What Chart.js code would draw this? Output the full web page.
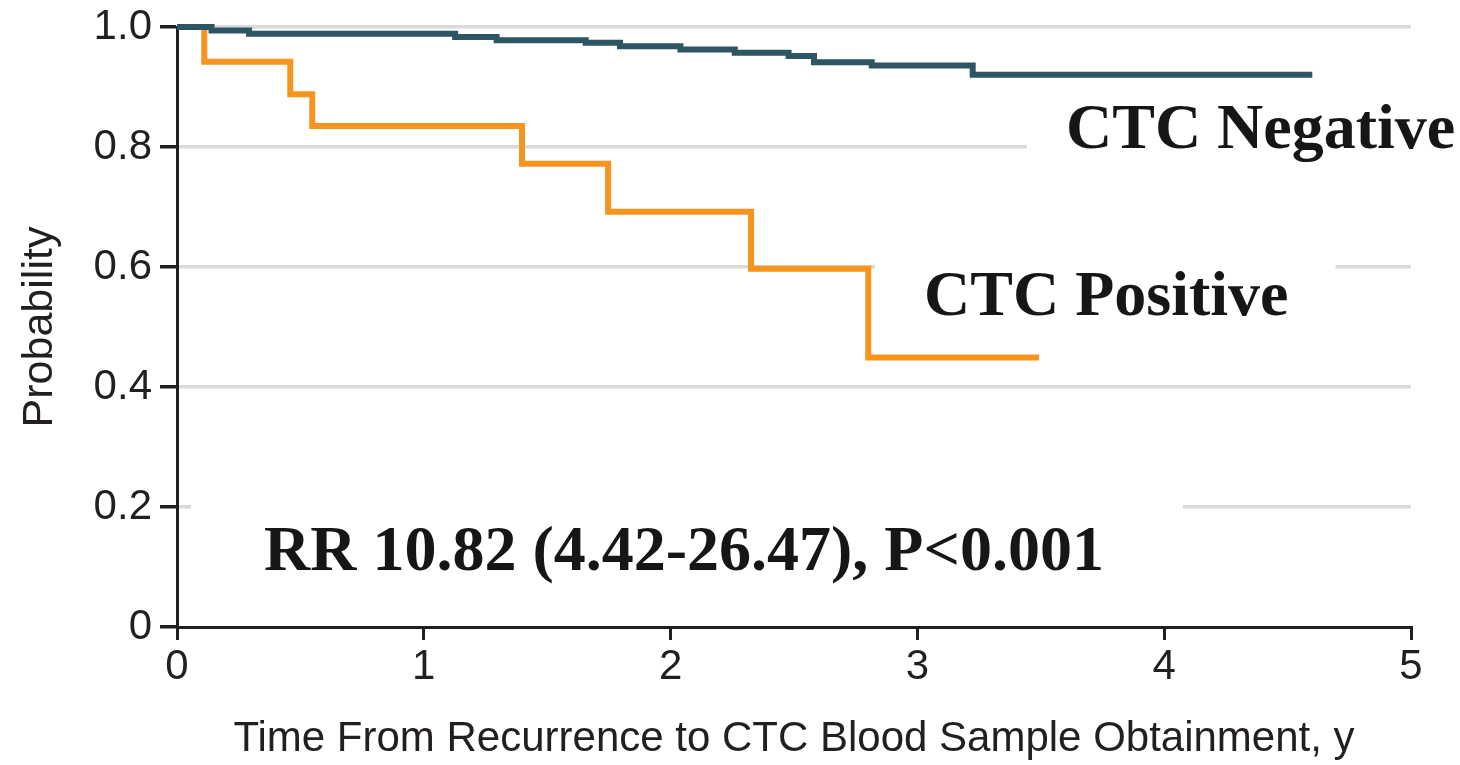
<!DOCTYPE html>
<html>
<head>
<meta charset="utf-8">
<script src="https://cdn.jsdelivr.net/npm/chart.js@4/dist/chart.umd.min.js"></script>
<style>
  html, body { margin: 0; padding: 0; background: #ffffff; }
  #wrap { width: 1460px; height: 765px; }
</style>
</head>
<body>
<div id="wrap"><canvas id="c" width="1460" height="765"></canvas></div>
<script>
// ---- Data ----
const negTimes  = [0, 0.14, 0.292, 1.127, 1.295, 1.656, 1.795, 2.04, 2.26, 2.478, 2.581, 2.815, 3.224, 4.60];
const negSurv   = [1.0, 0.994, 0.9886, 0.9833, 0.978, 0.9736, 0.9678, 0.9625, 0.9572, 0.9517, 0.9411, 0.9358, 0.9206, 0.9206];
const posTimes  = [0, 0.1106, 0.459, 0.548, 1.398, 1.747, 2.326, 2.801, 3.493];
const posSurv   = [1.0, 0.942, 0.888, 0.835, 0.772, 0.692, 0.597, 0.449, 0.449];
const xTickLabels = ['0', '1', '2', '3', '4', '5'];
const yTickLabels = ['0', '0.2', '0.4', '0.6', '0.8', '1.0'];
const seriesNames = ['CTC Negative', 'CTC Positive'];
const statText = 'RR 10.82 (4.42-26.47), P<0.001';
const xTitle = 'Time From Recurrence to CTC Blood Sample Obtainment, y';
const yTitle = 'Probability';

const INK = '#231f20';
const GRID = '#dadadb';
const SANS = "'Liberation Sans', Arial, sans-serif";
const SERIF = "'Liberation Serif', 'Times New Roman', serif";

function toPoints(xs, ys) { return xs.map((x, i) => ({ x: x, y: ys[i] })); }

// annotation labels anchored in data space (baseline-left of text)
const annotations = [
  { text: seriesNames[0], x: 3.602, y: 0.7983, padL: 39, padR: 40, up: 48, down: 27 },
  { text: seriesNames[1], x: 3.027, y: 0.52,   padL: 49, padR: 47, up: 75, down: 15 },
  { text: statText,       x: 0.3525, y: 0.095, padL: 73, padR: 79, up: 80, down: 20 }
];
const annFont = 'bold 64px ' + SERIF;

const annotationPlugin = {
  id: 'annotationPlugin',
  beforeDatasetsDraw(chart) {
    const ctx = chart.ctx;
    const xs = chart.scales.x, ys = chart.scales.y;
    ctx.save();
    ctx.font = annFont;
    ctx.fillStyle = '#ffffff';
    annotations.forEach(a => {
      const px = xs.getPixelForValue(a.x);
      const py = ys.getPixelForValue(a.y);
      const w = ctx.measureText(a.text).width;
      ctx.fillRect(px - a.padL, py - a.up, w + a.padL + a.padR, a.up + a.down);
    });
    ctx.restore();
  },
  afterDraw(chart) {
    const ctx = chart.ctx;
    const xs = chart.scales.x, ys = chart.scales.y;
    ctx.save();
    ctx.font = annFont;
    ctx.fillStyle = '#161616';
    ctx.textAlign = 'left';
    ctx.textBaseline = 'alphabetic';
    annotations.forEach(a => {
      ctx.fillText(a.text, xs.getPixelForValue(a.x), ys.getPixelForValue(a.y));
    });
    ctx.restore();
  }
};

new Chart(document.getElementById('c'), {
  type: 'line',
  data: {
    datasets: [
      {
        label: seriesNames[0],
        data: toPoints(negTimes, negSurv),
        borderColor: '#2d5564',
        borderWidth: 6,
        stepped: 'before',
        pointRadius: 0,
        fill: false,
        clip: false
      },
      {
        label: seriesNames[1],
        data: toPoints(posTimes, posSurv),
        borderColor: '#f7941d',
        borderWidth: 6,
        stepped: 'before',
        pointRadius: 0,
        fill: false,
        clip: false
      }
    ]
  },
  options: {
    responsive: false,
    devicePixelRatio: 1,
    animation: false,
    layout: { padding: { top: 27, right: 49, left: 0, bottom: 0 } },
    plugins: { legend: { display: false }, tooltip: { enabled: false } },
    scales: {
      x: {
        type: 'linear',
        min: 0, max: 5,
        afterFit(scale) { scale.height = 138; scale.paddingLeft = 0; scale.paddingRight = 0; },
        ticks: {
          stepSize: 1,
          color: INK,
          font: { family: SANS, size: 42 },
          padding: 2,
          maxRotation: 0,
          callback: (v) => xTickLabels[Math.round(v)]
        },
        grid: {
          drawOnChartArea: false,
          drawTicks: true,
          tickLength: 13,
          color: INK,
          tickColor: INK,
          lineWidth: 3
        },
        border: { display: true, color: INK, width: 3 },
        title: {
          display: true,
          text: xTitle,
          color: INK,
          font: { family: SANS, size: 42 },
          padding: { top: 0, bottom: 0 }
        }
      },
      y: {
        type: 'linear',
        min: 0, max: 1,
        afterFit(scale) { scale.width = 177; scale.paddingTop = 0; scale.paddingBottom = 0; },
        ticks: {
          stepSize: 0.2,
          color: INK,
          font: { family: SANS, size: 42 },
          padding: 8,
          callback: (v) => yTickLabels[Math.round(v * 5)]
        },
        grid: {
          drawTicks: true,
          tickLength: 17,
          color: (c) => (c.tick && c.tick.value === 0 ? 'rgba(0,0,0,0)' : GRID),
          tickColor: INK,
          lineWidth: 3.5
        },
        border: { display: true, color: INK, width: 3 },
        title: {
          display: true,
          text: yTitle,
          color: INK,
          font: { family: SANS, size: 43 },
          padding: { top: 14, bottom: 0 }
        }
      }
    }
  },
  plugins: [annotationPlugin]
});
</script>
</body>
</html>
